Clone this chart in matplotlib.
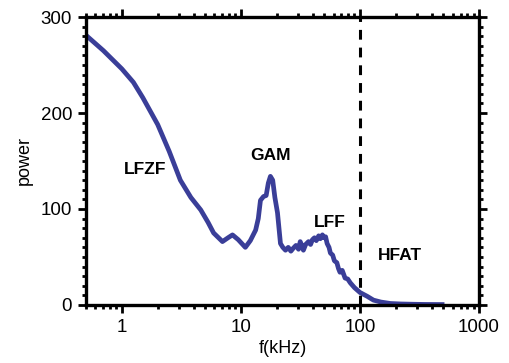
import matplotlib.pyplot as plt
import numpy as np
from matplotlib.ticker import MultipleLocator, LogLocator, NullFormatter

plt.rcParams['font.family'] = ['Liberation Sans', 'DejaVu Sans']

# spectrum
freq = [0.5, 0.7, 1.0, 1.25, 1.5, 2.0, 2.5, 3.1, 3.8, 4.6, 5.3, 5.9, 7.0, 7.8, 8.5,
        9.5, 10.9, 12.0, 13.3, 14.0, 14.6, 15.5, 16.3, 17.0, 17.7, 18.5, 19.3, 20.3,
        21.5, 22.5, 23.7, 25.0, 26.3, 27.5, 29.0, 30.5, 31.5, 32.5, 33.5, 35.0, 37.0,
        38.5, 39.9, 41.5, 43.0, 45.0, 46.5, 48.4, 50.0, 51.5, 53.0, 55.0, 56.5, 59.0,
        61.0, 64.0, 66.0, 68.0, 71.0, 75.0, 79.0, 83.0, 90.0, 100.0, 115.0, 130.0,
        150.0, 180.0, 220.0, 280.0, 350.0, 490.0]
power = [281, 265, 246, 232, 216, 188, 160, 130, 112, 99, 86, 75, 66, 70, 73,
         68, 60, 67, 78, 90, 109, 113, 114, 127, 134, 130, 112, 96,
         64, 60, 57, 60, 56, 59, 62, 58, 66, 62, 57, 63, 66,
         63, 68, 70, 67, 72, 69, 73, 70, 71, 64, 60, 54, 52,
         46, 44, 38, 34, 36, 28, 27, 23, 18, 13, 9, 5,
         3, 1.5, 1.0, 0.7, 0.5, 0.4]

labels = ['LFZF', 'GAM', 'LFF', 'HFAT']
label_x = [1.56, 17.8, 56, 215]
label_y = [141, 156, 86, 51]

fig = plt.figure(figsize=(5.09, 3.63), dpi=100)
ax = fig.add_axes([0.169, 0.160, 0.772, 0.793])

ax.plot(freq, power, color='#3a3e98', linewidth=3.4, solid_joinstyle='round')
ax.axvline(100, color='black', linestyle=(0, (3.2, 2.6)), linewidth=2.2)

for t, tx, ty in zip(labels, label_x, label_y):
    ax.text(tx, ty, t, ha='center', va='center', fontsize=12.5, fontweight='bold')

ax.set_xscale('log')
ax.set_xlim(0.5, 1000)
ax.set_ylim(0, 300)
ax.set_xticks([1, 10, 100, 1000])
ax.set_xticklabels(['1', '10', '100', '1000'])
ax.xaxis.set_minor_locator(LogLocator(base=10, subs=np.arange(2, 10)))
ax.xaxis.set_minor_formatter(NullFormatter())
ax.yaxis.set_major_locator(MultipleLocator(100))
ax.yaxis.set_minor_locator(MultipleLocator(10))

for s in ax.spines.values():
    s.set_linewidth(2.4)
ax.tick_params(which='both', direction='out', top=True, right=True, width=2.0,
               labelsize=13.5, pad=4)
ax.tick_params(which='major', length=6)
ax.tick_params(which='minor', length=3)

ax.set_xlabel('f(kHz)', fontsize=13, labelpad=3)
ax.set_ylabel('power', fontsize=13, labelpad=6)

fig.savefig('out.png', dpi=100)
